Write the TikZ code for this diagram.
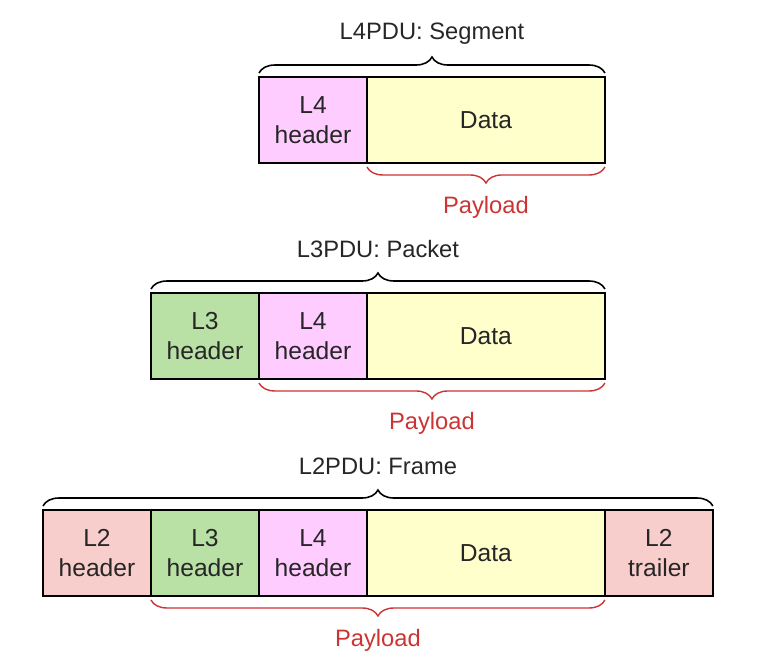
\documentclass[tikz,border=0pt]{standalone}
\usepackage{fontspec}
\setmainfont{Liberation Sans}
\usetikzlibrary{positioning,decorations.pathreplacing}
\definecolor{l2col}{RGB}{248,206,204}
\definecolor{l3col}{RGB}{185,224,165}
\definecolor{l4col}{RGB}{255,204,255}
\definecolor{datacol}{RGB}{255,255,204}
\definecolor{paycol}{RGB}{204,51,51}

\begin{document}
\begin{tikzpicture}[x=0.02cm, y=-0.02cm,
  field/.style={draw=black, line width=0.9pt, minimum width=2.16cm, minimum height=1.72cm, inner sep=0pt, outer sep=0pt, align=center, font=\fontsize{14}{17}\selectfont, text=black!85},
  datafield/.style={field, fill=datacol, minimum width=4.76cm},
  pdubrace/.style={decorate, decoration={brace, amplitude=0.32cm, raise=0.08cm}, line width=0.9pt},
  paybrace/.style={decorate, decoration={brace, mirror, amplitude=0.32cm, raise=0.08cm}, line width=0.8pt, draw=paycol},
  pdulabel/.style={midway, yshift=0.87cm, font=\fontsize{13.5}{16}\selectfont, text=black!85},
  paylabel/.style={midway, yshift=-0.88cm, font=\fontsize{13.5}{16}\selectfont, text=paycol}]
\useasboundingbox (0,0) rectangle (770,661);
\node[field, fill=l4col] (s4) at (313,120) {L4\\header};
\node[datafield, right=0pt of s4] (sd) {Data};
\draw[pdubrace] (s4.north west) -- (sd.north east) node[pdulabel] {L4PDU: Segment};
\draw[paybrace] (sd.south west) -- (sd.south east) node[paylabel] {Payload};
\node[field, fill=l3col] (p3) at (205,336) {L3\\header};
\node[field, fill=l4col, right=0pt of p3] (p4) {L4\\header};
\node[datafield, right=0pt of p4] (pd) {Data};
\draw[pdubrace] (p3.north west) -- (pd.north east) node[pdulabel] {L3PDU: Packet};
\draw[paybrace] (p4.south west) -- (pd.south east) node[paylabel] {Payload};
\node[field, fill=l2col] (f2) at (97,553) {L2\\header};
\node[field, fill=l3col, right=0pt of f2] (f3) {L3\\header};
\node[field, fill=l4col, right=0pt of f3] (f4) {L4\\header};
\node[datafield, right=0pt of f4] (fd) {Data};
\node[field, fill=l2col, right=0pt of fd] (ft) {L2\\trailer};
\draw[pdubrace] (f2.north west) -- (ft.north east) node[pdulabel] {L2PDU: Frame};
\draw[paybrace] (f3.south west) -- (fd.south east) node[paylabel] {Payload};
\end{tikzpicture}
\end{document}
